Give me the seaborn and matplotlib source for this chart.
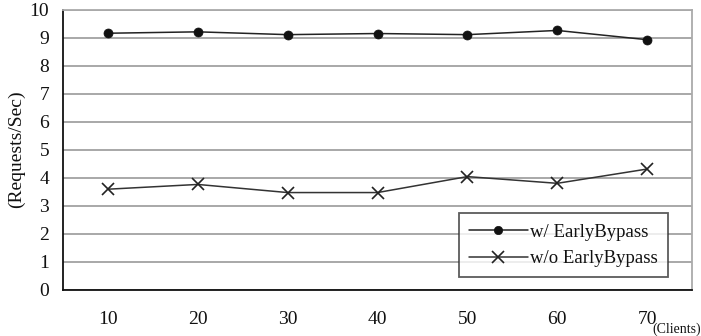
import matplotlib
matplotlib.use("Agg")
import matplotlib.pyplot as plt
import seaborn as sns
import pandas as pd
from matplotlib.ticker import FixedLocator
from matplotlib.lines import Line2D

clients = ["10", "20", "30", "40", "50", "60", "70"]
with_bypass = [9.17, 9.22, 9.12, 9.16, 9.12, 9.27, 8.94]
without_bypass = [3.60, 3.77, 3.48, 3.48, 4.05, 3.81, 4.32]
series_names = ["w/ EarlyBypass", "w/o EarlyBypass"]
y_ticks = list(range(0, 11))

sns.set_theme(style="white")
plt.rcParams["font.family"] = ["Liberation Serif", "DejaVu Serif"]

pos = list(range(len(clients)))
df1 = pd.DataFrame({"pos": pos, "value": with_bypass})
df2 = pd.DataFrame({"pos": pos, "value": without_bypass})

fig = plt.figure(figsize=(7.01, 3.36), dpi=100)
ax = fig.add_axes([63 / 701, 46 / 336, 629 / 701, 280 / 336])

sns.lineplot(data=df1, x="pos", y="value", color="#222222", marker="o",
             linewidth=1.1, markersize=6.5, markeredgewidth=0.5,
             markeredgecolor="#111111", markerfacecolor="#111111", ax=ax)
sns.lineplot(data=df2, x="pos", y="value", color="#333333", marker="x",
             linewidth=1.1, markersize=9, markeredgewidth=1.2,
             markeredgecolor="#222222", ax=ax)

ax.set_xlim(-0.5, len(clients) - 0.5)
ax.set_ylim(0, 10)
ax.set_yticks(y_ticks)
ax.set_yticklabels([str(t) for t in y_ticks])
ax.set_xticks(pos)
ax.set_xticklabels(clients)
ax.xaxis.set_minor_locator(FixedLocator([p + 0.5 for p in pos[:-1]]))
ax.tick_params(axis="x", which="major", length=0, pad=15, labelsize=14, colors="#111111")
ax.tick_params(axis="x", which="minor", direction="in", length=6, width=1, color="#222222")
ax.tick_params(axis="y", which="major", direction="out", length=4, width=1, color="#222222",
               labelsize=14, pad=6, labelcolor="#111111")
ax.grid(axis="y", color="#999999", linewidth=1.2)
ax.set_axisbelow(True)
ax.set_xlabel("")
ax.set_ylabel("")

for s in ["left", "bottom"]:
    ax.spines[s].set_color("#111111")
    ax.spines[s].set_linewidth(1.3)
for s in ["top", "right"]:
    ax.spines[s].set_color("#aaaaaa")
    ax.spines[s].set_linewidth(1.3)

handles = [
    Line2D([], [], color="#222222", marker="o", markersize=6, markeredgewidth=0.5,
           markeredgecolor="#111111", markerfacecolor="#111111", linewidth=1.1),
    Line2D([], [], color="#333333", marker="x", markersize=9, markeredgewidth=1.2,
           markeredgecolor="#222222", linewidth=1.1),
]
leg = ax.legend(handles, series_names, loc="lower right", bbox_to_anchor=(0.9625, 0.045),
                frameon=True, fancybox=False, fontsize=13.5, handlelength=3.1,
                handletextpad=0.15, borderpad=0.55, borderaxespad=0, labelspacing=0.5)
leg.get_frame().set_edgecolor("#333333")
leg.get_frame().set_linewidth(1.3)
for t in leg.get_texts():
    t.set_color("#111111")

fig.text(16 / 701, 1 - 149 / 336, "(Requests/Sec)", rotation=90, ha="center", va="center",
         fontsize=14, color="#111111")
fig.text(701 / 701, 0.5 / 336, "(Clients)", ha="right", va="bottom", fontsize=10,
         color="#111111")

fig.savefig("out.png", dpi=100)
